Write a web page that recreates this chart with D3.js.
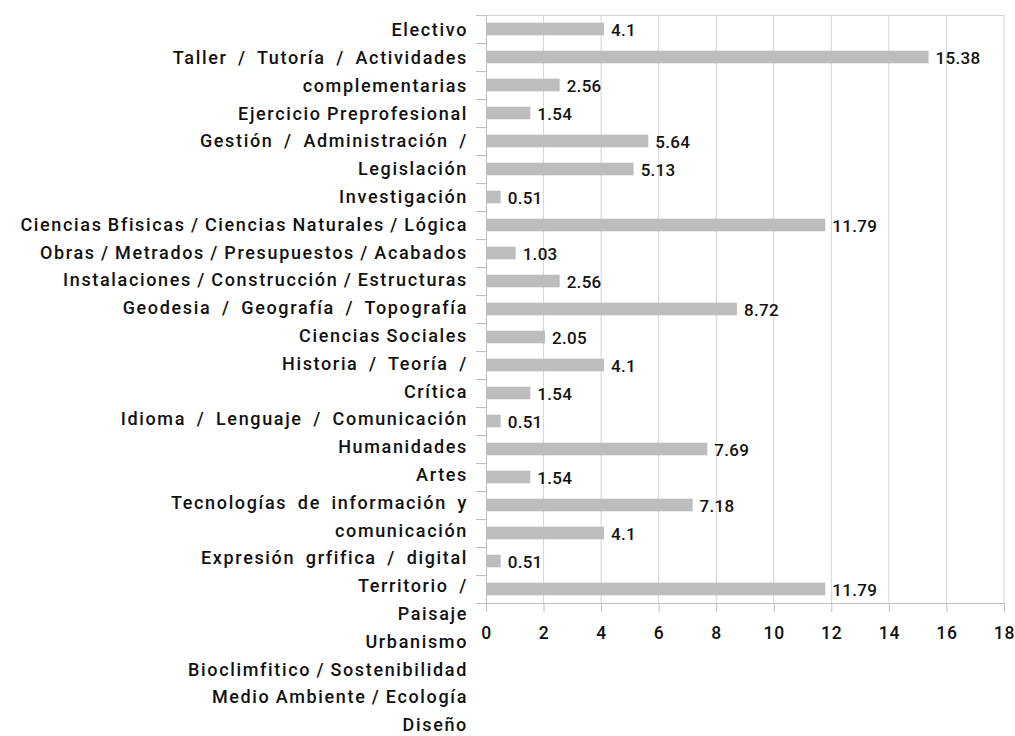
<!DOCTYPE html>
<html><head><meta charset="utf-8">
<script src="https://cdn.jsdelivr.net/npm/d3@7"></script>
<style>body{margin:0;background:#fff}svg{display:block}text{font-family:Roboto,"Noto Sans",sans-serif;fill:#111;font-weight:500;white-space:pre}</style>
</head><body><svg id="c" width="1015" height="736"></svg>
<script>
const labelLines = ["Electivo","Taller  /  Tutoría  /  Actividades","complementarias","Ejercicio Preprofesional","Gestión  /  Administración  /","Legislación","Investigación","Ciencias Bfisicas / Ciencias Naturales / Lógica","Obras / Metrados / Presupuestos / Acabados","Instalaciones / Construcción / Estructuras","Geodesia  /  Geografía  /  Topografía","Ciencias Sociales","Historia  /  Teoría  /","Crítica","Idioma  /  Lenguaje  /  Comunicación","Humanidades","Artes","Tecnologías  de  información  y","comunicación","Expresión  grfifica  /  digital","Territorio  /","Paisaje","Urbanismo","Bioclimfitico / Sostenibilidad","Medio Ambiente / Ecología","Diseño"];
const values = [4.1,15.38,2.56,1.54,5.64,5.13,0.51,11.79,1.03,2.56,8.72,2.05,4.1,1.54,0.51,7.69,1.54,7.18,4.1,0.51,11.79];
const xTicks = [0,2,4,6,8,10,12,14,16,18];

const svg = d3.select("#c");
const pLeft = 486, pRight = 1004, pTop = 15, step = 28;
const pBottom = pTop + values.length * step;
const x = d3.scaleLinear().domain([0,18]).range([pLeft,pRight]);
const y = d3.scaleBand().domain(d3.range(values.length)).range([pTop,pBottom]).paddingInner(0.55).paddingOuter(0.275);
const labStep = 27.8;
const yl = d3.scaleBand().domain(d3.range(labelLines.length)).range([pTop+0.8, pTop+0.8 + labelLines.length*labStep]);

// grid
svg.append("g").selectAll("line").data(xTicks.slice(1)).join("line")
  .attr("x1",d=>x(d)).attr("x2",d=>x(d)).attr("y1",pTop).attr("y2",pBottom)
  .attr("stroke","#d4d4d4").attr("stroke-width",1);
svg.append("line").attr("x1",pLeft).attr("x2",pRight).attr("y1",pTop+0.5).attr("y2",pTop+0.5).attr("stroke","#d4d4d4");

// bars
svg.append("g").selectAll("rect").data(values).join("rect")
  .attr("x",x(0)+1).attr("y",(d,i)=>y(i)).attr("width",d=>x(d)-x(0)-1).attr("height",y.bandwidth())
  .attr("fill","#bdbdbd");

// value labels
svg.append("g").selectAll("text").data(values).join("text")
  .attr("x",d=>x(d)+7).attr("y",(d,i)=>y(i)+y.bandwidth()/2+1).attr("dy","0.36em")
  .attr("font-size",17).attr("letter-spacing",0.3).text(d=>d);

// x axis
const xa = svg.append("g").attr("transform",`translate(0,${pBottom})`)
  .call(d3.axisBottom(x).tickValues(xTicks).tickSize(9).tickPadding(15).tickFormat(d3.format("d")));
xa.select(".domain").attr("stroke","#bfbfbf").attr("d",`M${pLeft-10},0.5H${pRight}`);
xa.selectAll(".tick line").attr("stroke","#bfbfbf");
xa.selectAll(".tick text").attr("font-size",17.5).attr("font-family","Roboto").attr("font-weight",500).attr("fill","#111").attr("letter-spacing",0.8);

// y axis line + ticks
const ticksY = d3.range(values.length+1).map(i=>pTop+i*step);
svg.append("line").attr("x1",pLeft+0.5).attr("x2",pLeft+0.5).attr("y1",pTop).attr("y2",pBottom+9).attr("stroke","#bfbfbf");
svg.append("g").selectAll("line").data(ticksY).join("line")
  .attr("x1",pLeft-10).attr("x2",pLeft).attr("y1",d=>d+0.5).attr("y2",d=>d+0.5).attr("stroke","#bfbfbf");

// category label lines
svg.append("g").selectAll("text").data(labelLines).join("text")
  .attr("x",pLeft-18).attr("y",(d,i)=>yl(i)+labStep/2).attr("dy","0.36em")
  .attr("text-anchor","end").attr("font-size",18).attr("letter-spacing",1.65).attr("word-spacing",-0.8).text(d=>d);
</script></body></html>
